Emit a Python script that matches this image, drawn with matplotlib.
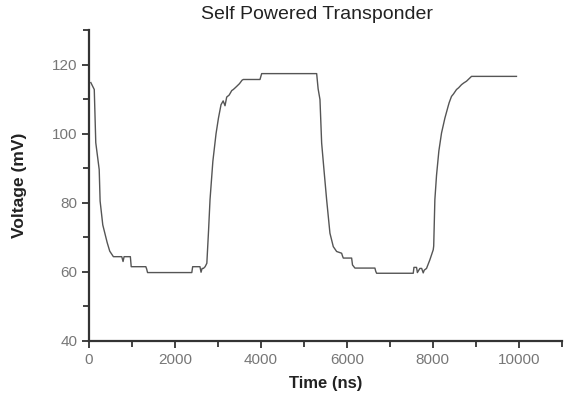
import matplotlib
matplotlib.use("Agg")
import matplotlib.pyplot as plt
from matplotlib.ticker import MultipleLocator

plt.rcParams['font.family'] = ['Liberation Sans', 'DejaVu Sans']

# trace (ns, mV)
time_ns = [40, 120, 155, 235, 256, 318, 360, 420, 480, 565, 760, 790, 814, 850, 880,
           960, 980, 1320, 1340, 1360, 2390, 2410, 2580, 2605, 2630, 2660, 2700, 2740,
           2780, 2814, 2880, 2954, 3010, 3070, 3120, 3163, 3202, 3260, 3320, 3356, 3400,
           3434, 3500, 3560, 3589, 3977, 4016, 5296, 5330, 5373, 5412, 5470, 5528, 5605,
           5683, 5700, 5761, 5877, 5900, 5916, 6110, 6130, 6187, 6652, 6670, 6691, 7544,
           7560, 7621, 7640, 7698, 7740, 7776, 7800, 7853, 7931, 8009, 8020, 8047, 8086,
           8140, 8202, 8280, 8357, 8380, 8434, 8480, 8551, 8600, 8667, 8720, 8783, 8850,
           8900, 9016, 9946]
voltage_mv = [114.8, 112.8, 97.4, 89.6, 80.5, 73.6, 71.5, 68.5, 66.0, 64.4, 64.4, 63.0, 64.4, 64.4, 64.4,
              64.4, 61.5, 61.5, 60.8, 59.8, 59.8, 61.5, 61.5, 59.9, 61.0, 61.0, 61.5, 62.5,
              72.0, 80.9, 92.0, 100.0, 104.5, 108.4, 109.5, 108.1, 110.6, 111.2, 112.5, 112.8, 113.3,
              113.7, 114.5, 115.5, 115.7, 115.7, 117.4, 117.4, 113.0, 109.9, 97.3, 89.0, 80.9, 71.2,
              67.3, 67.0, 65.9, 65.4, 64.5, 64.0, 64.0, 62.0, 61.1, 61.1, 60.2, 59.6, 59.6,
              61.3, 61.3, 59.8, 61.0, 61.0, 59.7, 60.5, 61.0, 63.5, 66.4, 67.5, 80.9, 88.0,
              95.0, 100.2, 104.5, 108.0, 109.0, 110.8, 111.5, 112.8, 113.3, 114.2, 114.7, 115.2, 116.0,
              116.6, 116.6, 116.6]

fig = plt.figure(figsize=(5.64, 3.96), dpi=100)
ax = fig.add_axes([0.158, 0.139, 0.838, 0.785])
ax.plot(time_ns, voltage_mv, color='#555555', linewidth=1.0)

ax.set_xlim(0, 11000)
ax.set_ylim(40, 130)
ax.xaxis.set_major_locator(MultipleLocator(2000))
ax.xaxis.set_minor_locator(MultipleLocator(1000))
ax.yaxis.set_minor_locator(MultipleLocator(10))
ax.set_yticks([40, 60, 80, 100, 120])

for s in ['top', 'right']:
    ax.spines[s].set_visible(False)
for s in ['left', 'bottom']:
    ax.spines[s].set_linewidth(1.6)
    ax.spines[s].set_color('#333333')

ax.tick_params(which='both', direction='out', colors='#333333', labelcolor='#777777',
               labelsize=11, width=1.3)
ax.tick_params(which='major', length=5)
ax.tick_params(which='minor', length=4)

ax.set_title('Self Powered Transponder', fontsize=14, color='#222222', pad=8, x=0.483)
ax.set_xlabel('Time (ns)', fontsize=12, fontweight='bold', color='#222222', labelpad=7)
ax.set_ylabel('Voltage (mV)', fontsize=12.5, fontweight='bold', color='#222222', labelpad=18)

fig.savefig('out.png', dpi=100)
